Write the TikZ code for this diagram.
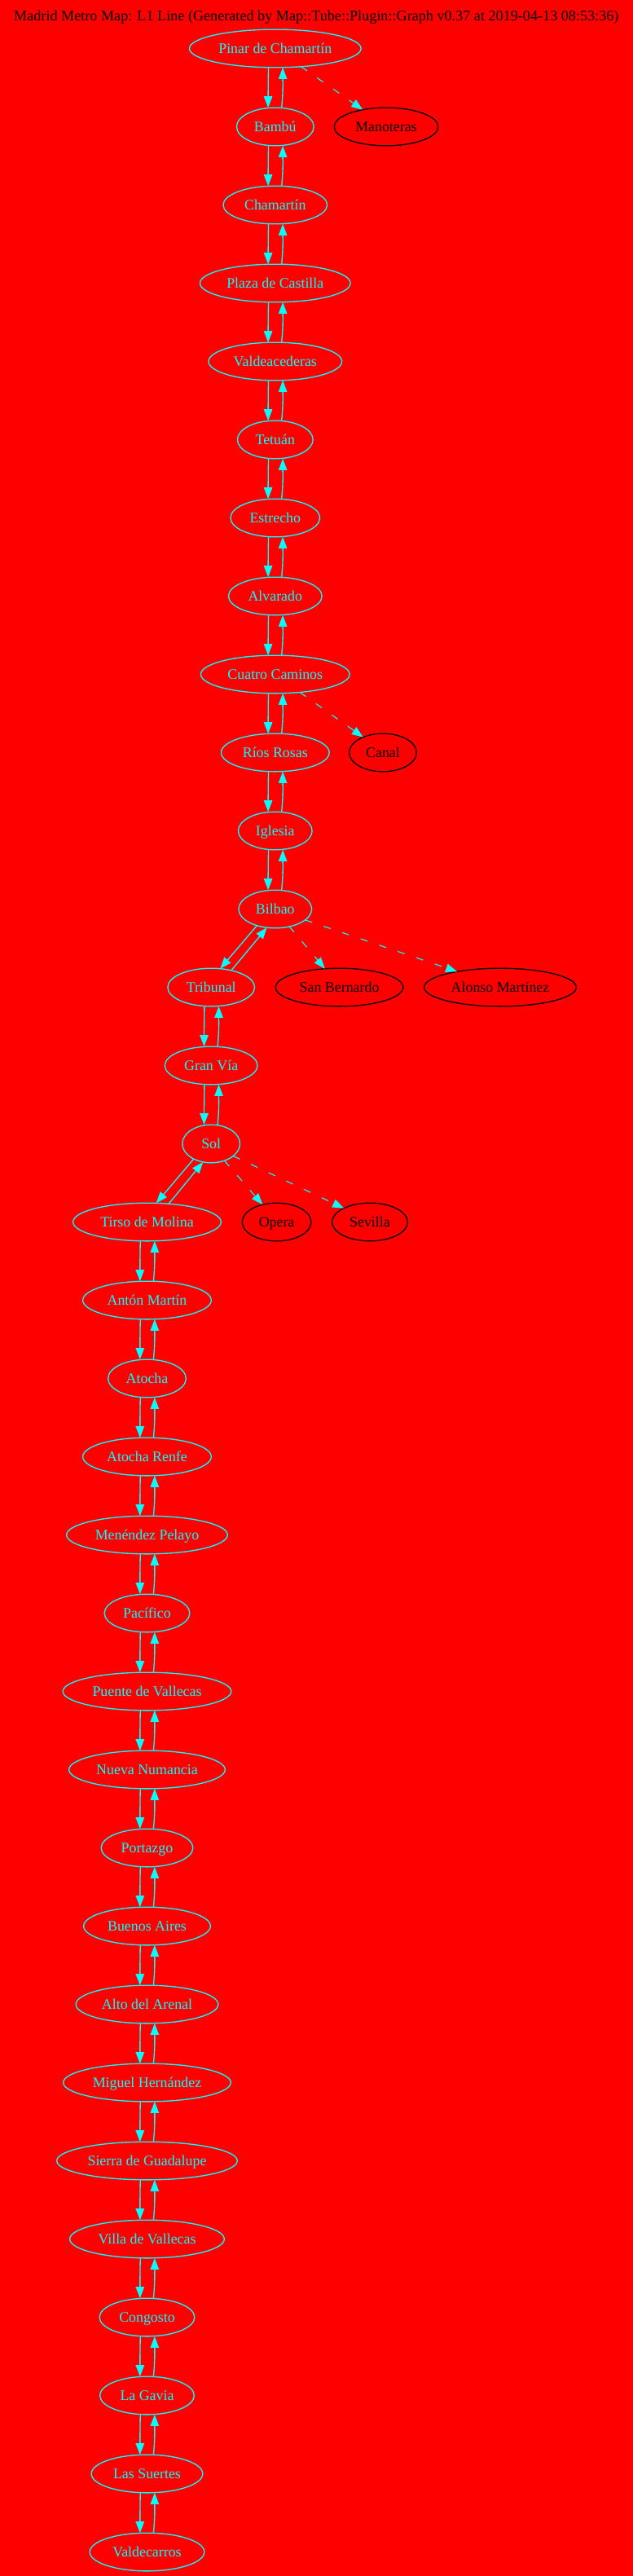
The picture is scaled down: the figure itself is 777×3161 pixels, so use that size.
\documentclass[tikz,border=0pt]{standalone}
\usepackage{fontspec}
\setmainfont{Liberation Serif}
\usepackage{tikz}
\usetikzlibrary{arrows.meta,shapes.geometric}
\definecolor{mapred}{RGB}{255,0,0}
\definecolor{mapcyan}{RGB}{0,255,255}

\begin{document}
\begin{tikzpicture}[x=0.75pt,y=-0.75pt,
label text/.style={font=\fontsize{13.4pt}{16pt}\selectfont, inner sep=0pt, outer sep=0pt, text height=11.4pt, text depth=3pt},
station/.style={label text, ellipse, draw=mapcyan, text=mapcyan, line width=1pt, minimum height=35pt},
branch/.style={label text, ellipse, draw=black, text=black, line width=1pt, minimum height=35pt},
link/.style={draw=mapcyan, line width=1pt, -{Triangle[length=10.5pt,width=7.8pt]}},
spur/.style={draw=mapcyan, line width=0.85pt, dash pattern=on 6.7pt off 11.3pt, -{Triangle[length=10.5pt,width=7.8pt]}}]
\fill[mapred] (0,0) rectangle (777,3161);
\useasboundingbox (0,0) rectangle (777,3161);
\node[label text, text=black, font=\fontsize{13.62pt}{16pt}\selectfont] (title) at (388.3,20) {Madrid Metro Map: L1 Line (Generated by Map::Tube::Plugin::Graph v0.37 at 2019-04-13 08:53:36)};
% stations on the line
\foreach \nm/\lab/\cx/\row/\nodew in {
pinar/Pinar de Chamartín/337.8/0/212, bambu/Bambú/337.8/1/96, chamartin/Chamartín/337.8/2/129,
plaza/Plaza de Castilla/337.8/3/186, valdeacederas/Valdeacederas/337.8/4/165, tetuan/Tetuán/337.8/5/94,
estrecho/Estrecho/337.8/6/111, alvarado/Alvarado/337.8/7/116, cuatro/Cuatro Caminos/337.8/8/184,
rios/Ríos Rosas/337.8/9/134, iglesia/Iglesia/337.8/10/92, bilbao/Bilbao/337.8/11/91,
tribunal/Tribunal/259.2/12/108, granvia/Gran Vía/259.2/13/115, sol/Sol/259.2/14/72,
tirso/Tirso de Molina/180.5/15/183, anton/Antón Martín/180.5/16/159, atocha/Atocha/180.5/17/97,
renfe/Atocha Renfe/180.5/18/159, menendez/Menéndez Pelayo/180.5/19/199, pacifico/Pacífico/180.5/20/106,
puente/Puente de Vallecas/180.5/21/208, nueva/Nueva Numancia/180.5/22/193, portazgo/Portazgo/180.5/23/114,
buenos/Buenos Aires/180.5/24/157, alto/Alto del Arenal/180.5/25/176, miguel/Miguel Hernández/180.5/26/207,
sierra/Sierra de Guadalupe/180.5/27/223, villa/Villa de Vallecas/180.5/28/191, congosto/Congosto/180.5/29/118,
gavia/La Gavia/180.5/30/117, suertes/Las Suertes/180.5/31/138, valdecarros/Valdecarros/180.5/32/142}
  \node[station, minimum width=\nodew*0.75pt-1pt] (\nm) at (\cx,59.5+96*\row) {\lab};
% stations on other lines
\foreach \nm/\lab/\cx/\row/\nodew in {
manoteras/Manoteras/474/1/129, canal/Canal/470/9/84, sanbernardo/San Bernardo/416.6/12/158,
alonso/Alonso Martínez/614/12/188, opera/Opera/339.6/15/86, sevilla/Sevilla/454/15/94}
  \node[branch, minimum width=\nodew*0.75pt-1pt] (\nm) at (\cx,59.5+96*\row) {\lab};
% both directions, one above the other
\foreach \a/\b in {pinar/bambu, bambu/chamartin, chamartin/plaza, plaza/valdeacederas, valdeacederas/tetuan,
tetuan/estrecho, estrecho/alvarado, alvarado/cuatro, cuatro/rios, rios/iglesia, iglesia/bilbao,
tribunal/granvia, granvia/sol, tirso/anton, anton/atocha, atocha/renfe, renfe/menendez, menendez/pacifico,
pacifico/puente, puente/nueva, nueva/portazgo, portazgo/buenos, buenos/alto, alto/miguel, miguel/sierra,
sierra/villa, villa/congosto, congosto/gavia, gavia/suertes, suertes/valdecarros} {
  \draw[link] ([xshift=-6.2pt]\a.south) to[out=-91,in=90] ([xshift=-6.5pt]\b.north);
  \draw[link] ([xshift=5.9pt]\b.north) to[out=84,in=-90] ([xshift=7pt]\a.south);
}
% the two slanted pairs
\draw[link] (bilbao.-138.6) -- (tribunal.64.6);
\draw[link] (tribunal.40.2) -- (bilbao.-114.4);
\draw[link] (sol.-139.3) -- (tirso.64);
\draw[link] (tirso.40.5) -- (sol.-114.4);
% dashed links to the other lines
\draw[spur] (pinar.-35.8) -- (manoteras.144.3);
\draw[spur] (cuatro.-36.9) -- (canal.142.7);
\draw[spur] (bilbao.-51.7) -- (sanbernardo.128);
\draw[spur] (bilbao.-20.7) -- (alonso.160.5);
\draw[spur] (sol.-52.3) -- (opera.129.7);
\draw[spur] (sol.-29.3) -- (sevilla.152.3);
\end{tikzpicture}
\end{document}
